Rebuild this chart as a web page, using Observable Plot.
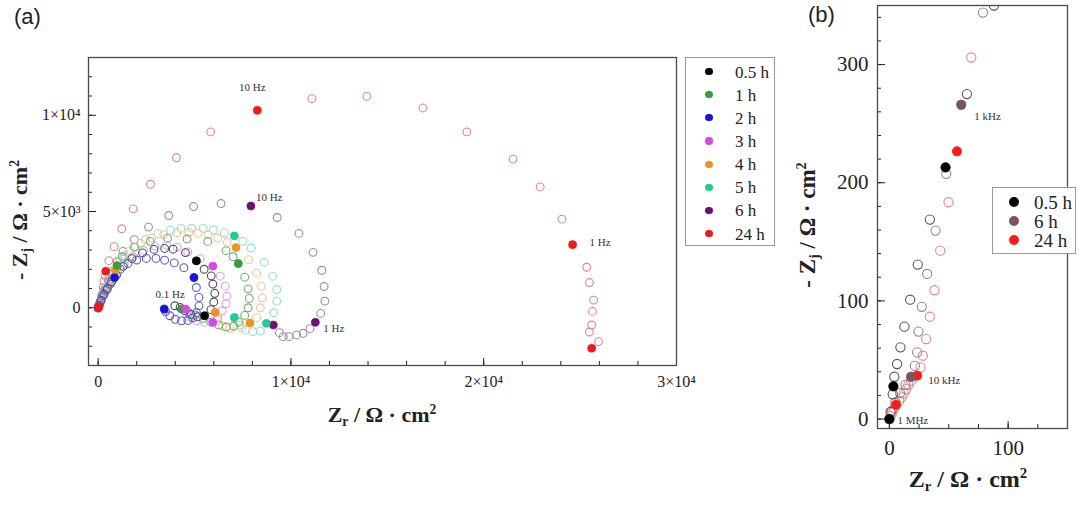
<!DOCTYPE html>
<html><head><meta charset="utf-8">
<script src="https://cdn.jsdelivr.net/npm/d3@7"></script>
<script src="https://cdn.jsdelivr.net/npm/@observablehq/plot@0.6"></script>
<style>
body{margin:0;background:#fff;}
#wrap{position:relative;width:1080px;height:505px;overflow:hidden;background:#fff;font-family:"Liberation Serif","Times New Roman",serif;color:#222;}
.ttl{position:absolute;font-weight:bold;white-space:nowrap;transform:translate(-50%,-50%);line-height:1;}
.ttl sub{font-size:0.62em;vertical-align:-0.3em;}
.ttl sup{font-size:0.62em;vertical-align:0.6em;}
.rot{transform:translate(-50%,-50%) rotate(-90deg);}
.panel{position:absolute;font-family:"Liberation Sans",Arial,sans-serif;font-size:22px;line-height:1;}
.leg{position:absolute;border:1px solid #999;background:#fff;box-sizing:border-box;}
.legdot{position:absolute;border-radius:50%;}
.legtxt{position:absolute;line-height:1;transform:translateY(-50%);white-space:nowrap;}
</style></head><body><div id="wrap"></div>
<script>
// ---------------- Panel (a) data : [Zr, -Zj] in ohm·cm² ----------------
const seriesNamesA = ["0.5 h","1 h","2 h","3 h","4 h","5 h","6 h","24 h"];
const fillColorsA  = ["#000000","#3a9c3a","#1414e0","#d54ae8","#ef9322","#22cc8e","#6e1072","#f01818"];
const openColorsA  = ["#505050","#72ae72","#5c5cd0","#d8a2e6","#f3c591","#94e2c7","#a586a8","#dc8984"];

const open05h = [[0,0],[50,120],[150,380],[300,700],[480,1000],[700,1350],[950,1700],[1300,2150],[1750,2550],[2300,2850],[2900,3030],[3450,3080],[3891,3041],[4529,2865],[5095,2435],[5500,2000],[5867,1658],[5950,1228],[6050,750],[6000,300],[5850,-100],[5522,-415],[5150,-470],[4800,-350],[4500,-150],[4250,20],[3978,104]];
const open1h  = [[0,0],[60,180],[180,500],[350,900],[560,1350],[760,1780],[977,2176],[1250,2650],[1900,3150],[2700,3450],[3600,3600],[4613,3569],[5683,3448],[6633,2965],[7000,2650],[7272,2295],[7603,1586],[7781,983],[7841,483],[7780,0],[7600,-400],[7300,-750],[7029,-948],[6650,-1000],[6250,-900],[5850,-750],[5450,-560],[5050,-380],[4680,-220],[4323,-67]];
const open2h  = [[0,0],[40,100],[120,330],[250,620],[420,900],[633,1228],[850,1570],[1148,2005],[1550,2300],[2000,2480],[2500,2560],[3000,2560],[3450,2470],[3950,2330],[4450,2080],[4972,1570],[5095,1052],[5230,534],[5230,100],[5100,-250],[4900,-520],[4650,-660],[4323,-680],[4000,-600],[3720,-415],[3500,-200],[3428,-67]];
const open3h  = [[0,0],[50,150],[160,420],[320,760],[520,1100],[760,1450],[1000,1800],[1350,2250],[1800,2650],[2350,2980],[2950,3200],[3550,3250],[4100,3150],[4650,2900],[5300,2550],[5950,2160],[6336,1638],[6593,1121],[6673,603],[6633,207],[6435,-172],[6200,-500],[5950,-760],[5522,-760],[5095,-680],[4751,-502],[4600,-300],[4545,-67]];
const open4h  = [[0,0],[40,130],[140,400],[290,750],[480,1150],[660,1550],[895,1917],[1150,2450],[1650,2950],[2200,3350],[2772,3620],[3400,3800],[4079,3900],[4700,3920],[5188,3879],[5700,3780],[6197,3620],[6700,3400],[7153,3124],[7801,2500],[8217,1810],[8455,1121],[8514,517],[8415,0],[8217,-517],[7874,-793],[7425,-1034],[6831,-1069],[6435,-948],[6200,-650],[6073,-243]];
const open5h  = [[0,0],[50,160],[160,460],[330,850],[540,1300],[760,1750],[1000,2200],[1350,2700],[1850,3150],[2450,3550],[3100,3850],[3762,4030],[4300,4120],[4851,4138],[5450,4120],[5980,4051],[6550,3900],[7066,3731],[7500,3450],[7940,3103],[8613,2362],[9049,1638],[9266,948],[9266,345],[9108,-259],[8729,-813],[8415,-1207],[8019,-1241],[7650,-1150],[7350,-900],[7066,-502]];
const open6h  = [[0,0],[60,200],[170,550],[330,950],[520,1400],[750,1900],[1000,2400],[1287,2931],[1881,3534],[2614,4189],[3663,4793],[4950,5258],[6376,5413],[7925,5285],[9286,4689],[10415,3862],[11147,2879],[11603,1948],[11722,1103],[11761,345],[11543,-293],[11266,-759],[10989,-1086],[10633,-1327],[10296,-1414],[9900,-1500],[9603,-1500],[9405,-1293],[9088,-897]];
const open24h = [[0,0],[30,20],[80,200],[150,380],[200,700],[260,1050],[300,1370],[360,1650],[396,1896],[554,2448],[832,3172],[1228,4103],[1822,5138],[2713,6413],[4059,7792],[5841,9137],[8257,10258],[11088,10861],[13939,10982],[16850,10378],[19127,9137],[21523,7723],[22928,6275],[24057,4603],[24611,3276],[25344,2103],[25483,1310],[25700,397],[25641,-190],[25601,-897],[25483,-1259],[25958,-1759],[25601,-2103]];

const filled05h = [[5095,2435],[5522,-415]];
const filled1h  = [[977,2176],[7272,2295],[4323,-67]];
const filled2h  = [[850,1570],[4972,1570],[3428,-67]];
const filled3h  = [[5950,2160],[5950,-760],[4545,-67]];
const filled4h  = [[895,1917],[7153,3124],[7874,-793],[6073,-243]];
const filled5h  = [[7066,3731],[8729,-813],[7066,-502]];
const filled6h  = [[7925,5285],[11266,-759],[9088,-897]];
const filled24h = [[0,0],[40,60],[396,1896],[8257,10258],[24611,3276],[25601,-2103]];

const openA   = [open05h, open1h, open2h, open3h, open4h, open5h, open6h, open24h];
const filledA = [filled05h, filled1h, filled2h, filled3h, filled4h, filled5h, filled6h, filled24h];
const drawOrderA = [7, 6, 5, 4, 1, 3, 0, 2];

const xTicksA = [0, 10000, 20000, 30000];
const xTickLabelsA = ["0", "1×10⁴", "2×10⁴", "3×10⁴"];
const yTicksA = [0, 5000, 10000];
const yTickLabelsA = ["0", "5×10³", "1×10⁴"];

const freqLabelsA = [
  {pt: filled24h[3], text: "10 Hz",  anchor: "middle", dx: -5, dy: -23},
  {pt: filled6h[0],  text: "10 Hz",  anchor: "start",  dx: 5,  dy: -9},
  {pt: filled24h[4], text: "1 Hz",   anchor: "start",  dx: 17, dy: -2},
  {pt: filled6h[1],  text: "1 Hz",   anchor: "start",  dx: 8,  dy: 6},
  {pt: filled2h[2],  text: "0.1 Hz", anchor: "middle", dx: 6,  dy: -15}
];

// ---------------- Panel (b) data (high-frequency region) ----------------
const seriesNamesB = ["0.5 h", "6 h", "24 h"];
const fillColorsB  = ["#000000", "#7b5558", "#ff1a1a"];
const openColorsB  = ["#555555", "#8e8a8a", "#e58585"];
const openB05h = [[0,0],[1,6],[2.8,21],[3.4,27.7],[4.2,35.8],[6.5,46.6],[9.3,60.7],[12.7,78.2],[17.5,101],[23.9,130.7],[34.1,168.8],[47.3,213],[65.3,275],[88.1,350]];
const openB6h  = [[0,0],[2,7],[5,14],[9,22],[13.5,29],[18.3,35.8],[21.5,45],[23.4,56.4],[24.5,74],[27.3,95],[31.8,122.8],[38.9,159.5],[47.9,207.5],[60.5,266],[78.8,344]];
const openB24h = [[0,0],[1,2.5],[2.5,5.5],[4,9],[5.6,12.1],[8.4,15.5],[10.4,18.3],[12.1,21.7],[14.1,25.4],[16,29],[18.3,32.5],[23.4,36.7],[26.2,43.7],[28.2,53.6],[31,67.7],[34.1,86.6],[38,109],[42.8,142.5],[49.8,183.5],[56.9,226.6],[69,306]];
const filledB05h = [[0,0],[3.4,27.7],[47.3,213]];
const filledB6h  = [[18.3,35.8],[60.5,266]];
const filledB24h = [[5.6,12.1],[23.4,36.7],[56.9,226.6]];
const openB = [openB05h, openB6h, openB24h];
const filledB = [filledB05h, filledB6h, filledB24h];
const drawOrderB = [2, 1, 0];

const xTicksB = [0, 100];
const xTickLabelsB = ["0", "100"];
const yTicksB = [0, 100, 200, 300];
const yTickLabelsB = ["0", "100", "200", "300"];

const freqLabelsB = [
  {pt: filledB6h[1],  text: "1 kHz",  dx: 13, dy: 12},
  {pt: filledB24h[1], text: "10 kHz", dx: 11, dy: 5},
  {pt: filledB05h[0], text: "1 MHz",  dx: 8,  dy: 1}
];

// ---------------- build ----------------
const wrap = document.getElementById("wrap");
const X = d => d[0], Y = d => d[1];
const serif = "'Liberation Serif','Times New Roman',serif";

const svgA = Plot.plot({
  width: 680, height: 430,
  marginLeft: 88, marginRight: 4, marginTop: 57, marginBottom: 65,
  x: {domain: [-500, 30000]},
  y: {domain: [-3000, 13000]},
  style: {fontFamily: serif, fontSize: "16px", color: "#222", background: "transparent", overflow: "visible"},
  marks: [
    Plot.axisX({ticks: d3.range(0, 30001, 2000), tickSize: -4, tickFormat: () => "", label: null}),
    Plot.axisX({ticks: xTicksA, tickSize: -7, tickPadding: 17, tickFormat: d => xTickLabelsA[xTicksA.indexOf(d)], label: null, fontSize: 16}),
    Plot.axisY({ticks: d3.range(-2000, 12001, 1000), tickSize: -4, tickFormat: () => "", label: null}),
    Plot.axisY({ticks: yTicksA, tickSize: -8, tickPadding: 16, tickFormat: d => yTickLabelsA[yTicksA.indexOf(d)], label: null, fontSize: 16}),
    Plot.frame({stroke: "#4a4a4a", strokeWidth: 1.3}),
    ...drawOrderA.map(i => Plot.dot(openA[i], {x: X, y: Y, r: 3.9, stroke: openColorsA[i], strokeWidth: 1.1, fill: "none"})),
    ...drawOrderA.map(i => Plot.dot(filledA[i], {x: X, y: Y, r: 4.1, fill: fillColorsA[i], stroke: "none"})),
    ...freqLabelsA.map(l => Plot.text([l], {x: d => d.pt[0], y: d => d.pt[1], text: "text", textAnchor: l.anchor, dx: l.dx, dy: l.dy, fontSize: 11, fill: "#333"}))
  ]
});
svgA.style.position = "absolute"; svgA.style.left = "0px"; svgA.style.top = "0px";
wrap.appendChild(svgA);

const svgB = Plot.plot({
  width: 260, height: 505,
  marginLeft: 57, marginRight: 13, marginTop: 5, marginBottom: 77,
  x: {domain: [-10, 150]},
  y: {domain: [-8, 350]},
  style: {fontFamily: serif, fontSize: "21px", color: "#222", background: "transparent", overflow: "visible"},
  marks: [
    Plot.axisX({ticks: d3.range(0, 151, 25), tickSize: -4, tickFormat: () => "", label: null}),
    Plot.axisX({ticks: xTicksB, tickSize: -7, tickPadding: 19, tickFormat: d => xTickLabelsB[xTicksB.indexOf(d)], label: null, fontSize: 21}),
    Plot.axisY({ticks: d3.range(0, 341, 20), tickSize: -4, tickFormat: () => "", label: null}),
    Plot.axisY({ticks: yTicksB, tickSize: -8, tickPadding: 17, tickFormat: d => yTickLabelsB[yTicksB.indexOf(d)], label: null, fontSize: 21}),
    Plot.frame({stroke: "#4a4a4a", strokeWidth: 1.3}),
    ...drawOrderB.map(i => Plot.dot(openB[i], {x: X, y: Y, r: 4.6, stroke: openColorsB[i], strokeWidth: 1.1, fill: "none", clip: true})),
    ...drawOrderB.map(i => Plot.dot(filledB[i], {x: X, y: Y, r: 4.8, fill: fillColorsB[i], stroke: "none", clip: true})),
    ...freqLabelsB.map(l => Plot.text([l], {x: d => d.pt[0], y: d => d.pt[1], text: "text", textAnchor: "start", dx: l.dx, dy: l.dy, fontSize: 11, fill: "#333"}))
  ]
});
svgB.style.position = "absolute"; svgB.style.left = "820px"; svgB.style.top = "0px";
wrap.appendChild(svgB);

// ---------------- HTML text: titles, panel tags, legends ----------------
function addHTML(html, cls, css) {
  const d = document.createElement("div");
  d.className = cls; d.innerHTML = html;
  Object.assign(d.style, css);
  wrap.appendChild(d);
  return d;
}
const titleX = "Z<sub>r</sub> / Ω · cm<sup>2</sup>";
const titleY = "- Z<sub>j</sub> / Ω · cm<sup>2</sup>";
addHTML(titleX, "ttl", {left: "382px", top: "416px", fontSize: "22px"});
addHTML(titleY, "ttl rot", {left: "21px", top: "220px", fontSize: "22px"});
addHTML(titleX, "ttl", {left: "968px", top: "480px", fontSize: "24px"});
addHTML(titleY, "ttl rot", {left: "808px", top: "225px", fontSize: "23px"});
addHTML("(a)", "panel", {left: "14px", top: "6px"});
addHTML("(b)", "panel", {left: "808px", top: "4px"});

function legend(names, colors, box, rowTop, rowGap, dotX, dotR, txtX, fontSize) {
  const lg = addHTML("", "leg", {left: box[0] + "px", top: box[1] + "px", width: box[2] + "px", height: box[3] + "px"});
  names.forEach((n, i) => {
    const cy = rowTop + i * rowGap;
    const dot = document.createElement("div");
    dot.className = "legdot";
    Object.assign(dot.style, {left: (dotX - dotR) + "px", top: (cy - dotR) + "px", width: 2 * dotR + "px", height: 2 * dotR + "px", background: colors[i]});
    lg.appendChild(dot);
    const t = document.createElement("div");
    t.className = "legtxt"; t.textContent = n;
    Object.assign(t.style, {left: txtX + "px", top: cy + "px", fontSize: fontSize + "px"});
    lg.appendChild(t);
  });
}
legend(seriesNamesA, fillColorsA, [685, 57, 90, 189], 13.5, 23.15, 23, 3.6, 49, 17);
legend(seriesNamesB, fillColorsB, [992, 187, 84, 67], 14, 19, 20.5, 5, 41, 19);
</script></body></html>
